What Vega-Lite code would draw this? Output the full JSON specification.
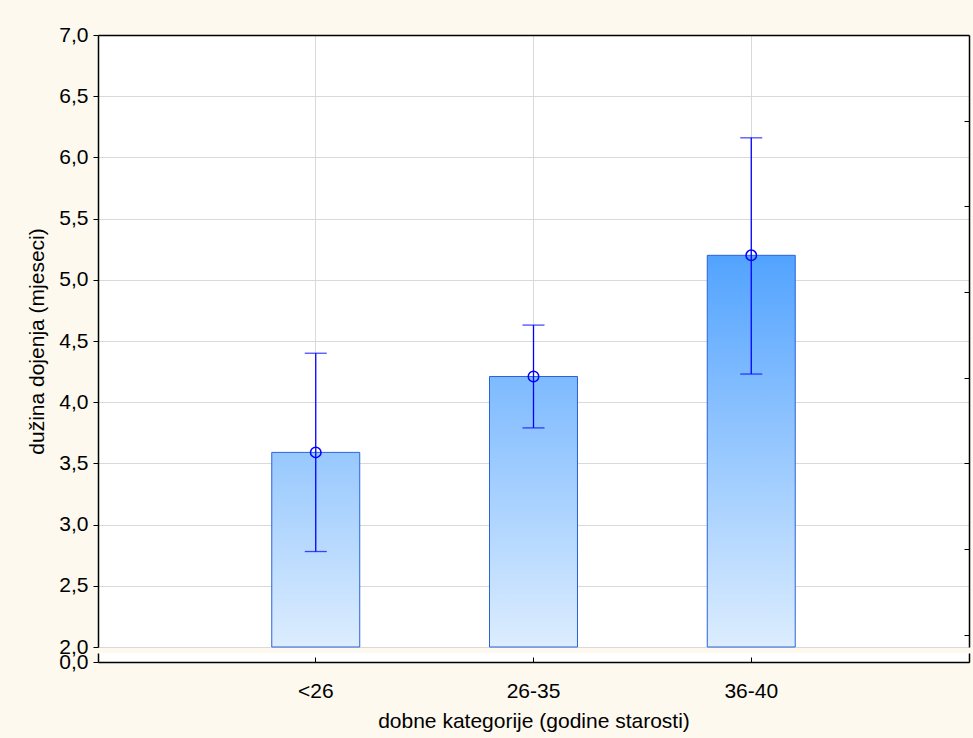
{
  "$schema": "https://vega.github.io/schema/vega-lite/v6.json",
  "background": "#fdf9ef",
  "padding": {"left": 26, "top": 24, "right": 4, "bottom": 8},
  "bounds": "flush",
  "data": {"values": [
    {"age": "<26", "mean": 3.59, "lo": 2.78, "hi": 4.40},
    {"age": "26-35", "mean": 4.21, "lo": 3.79, "hi": 4.63},
    {"age": "36-40", "mean": 5.20, "lo": 4.23, "hi": 6.16}
  ]},
  "spacing": 6,
  "vconcat": [
    {
      "width": 871,
      "height": 612,
      "encoding": {
        "x": {"field": "age", "type": "nominal",
          "scale": {"type": "band", "domain": ["<26", "26-35", "36-40"], "paddingInner": 0.596, "paddingOuter": 0.798},
          "axis": {"orient": "top", "labels": false, "ticks": false, "title": null, "domain": true, "domainColor": "#000", "domainWidth": 1.5, "grid": true, "gridColor": "#d9d9d9"}}
      },
      "layer": [
        {
          "mark": {"type": "bar", "stroke": "#2a62dc", "strokeWidth": 1},
          "encoding": {
            "y": {"field": "mean", "type": "quantitative",
              "scale": {"domain": [2, 7], "zero": false, "nice": false},
              "axis": {"orient": "left", "values": [2, 2.5, 3, 3.5, 4, 4.5, 5, 5.5, 6, 6.5, 7],
                "labelExpr": "replace(format(datum.value, '.1f'), '.', ',')",
                "grid": true, "gridColor": "#d9d9d9", "tickColor": "#000", "tickSize": 5,
                "domainColor": "#000", "domainWidth": 1.5, "labelFontSize": 21, "labelColor": "#000", "labelPadding": 5,
                "title": "dužina dojenja (mjeseci)", "titleFontSize": 21, "titleFontWeight": "normal", "titleColor": "#000", "titlePadding": 11}},
            "y2": {"datum": 2},
            "fill": {
              "condition": [
                {"test": "datum.age === '<26'", "value": {"gradient": "linear", "x1": 0, "y1": 0, "x2": 0, "y2": 1, "stops": [{"offset": 0, "color": "#97c8fe"}, {"offset": 1, "color": "#dcedfe"}]}},
                {"test": "datum.age === '26-35'", "value": {"gradient": "linear", "x1": 0, "y1": 0, "x2": 0, "y2": 1, "stops": [{"offset": 0, "color": "#7dbaff"}, {"offset": 1, "color": "#dcedfe"}]}}
              ],
              "value": {"gradient": "linear", "x1": 0, "y1": 0, "x2": 0, "y2": 1, "stops": [{"offset": 0, "color": "#52a3ff"}, {"offset": 1, "color": "#dcedfe"}]}
            }
          }
        },
        {
          "mark": {"type": "rule", "color": "#0000ff", "strokeWidth": 1.3},
          "encoding": {
            "y": {"field": "lo", "type": "quantitative",
              "scale": {"domain": [2, 7], "zero": false, "nice": false},
              "axis": {"orient": "right", "values": [2.1, 2.8, 3.5, 4.2, 4.9, 5.6, 6.3], "labels": false, "title": null, "grid": false,
                "tickSize": -5, "tickColor": "#000", "domainColor": "#000", "domainWidth": 1.5}},
            "y2": {"field": "hi"}
          }
        },
        {
          "mark": {"type": "tick", "orient": "horizontal", "size": 22, "thickness": 1.3, "color": "#0000ff"},
          "encoding": {
            "y": {"field": "lo", "type": "quantitative", "scale": {"domain": [2, 7], "zero": false, "nice": false}, "axis": null}
          }
        },
        {
          "mark": {"type": "tick", "orient": "horizontal", "size": 22, "thickness": 1.3, "color": "#0000ff"},
          "encoding": {
            "y": {"field": "hi", "type": "quantitative", "scale": {"domain": [2, 7], "zero": false, "nice": false}, "axis": null}
          }
        },
        {
          "mark": {"type": "point", "shape": "circle", "filled": false, "size": 110, "color": "#0000ff", "strokeWidth": 1.5, "opacity": 1},
          "encoding": {
            "y": {"field": "mean", "type": "quantitative", "scale": {"domain": [2, 7], "zero": false, "nice": false}, "axis": null}
          }
        }
      ],
      "resolve": {"axis": {"y": "independent"}}
    },
    {
      "width": 871,
      "height": 9,
      "encoding": {
        "x": {"field": "age", "type": "nominal",
          "scale": {"type": "band", "domain": ["<26", "26-35", "36-40"], "paddingInner": 0.596, "paddingOuter": 0.798},
          "axis": {"orient": "bottom", "labelFontSize": 21, "labelColor": "#000", "tickSize": -5, "tickColor": "#000",
            "domainColor": "#000", "domainWidth": 1.5, "labelPadding": 23, "labelAngle": 0,
            "title": "dobne kategorije (godine starosti)", "titleFontSize": 21, "titleFontWeight": "normal", "titleColor": "#000", "titlePadding": 9,
            "grid": false}}
      },
      "layer": [
        {
          "mark": {"type": "point", "opacity": 0},
          "encoding": {
            "y": {"datum": 0, "type": "quantitative", "scale": {"domain": [0, 1], "nice": false},
              "axis": {"orient": "left", "values": [0], "labelExpr": "'0,0'", "tickSize": 5, "tickColor": "#000", "labelFontSize": 21, "labelColor": "#000", "labelPadding": 5,
                "title": null, "grid": false, "domainColor": "#000", "domainWidth": 1.5}}
          }
        },
        {
          "mark": {"type": "point", "opacity": 0},
          "encoding": {
            "y": {"datum": 0, "type": "quantitative", "scale": {"domain": [0, 1], "nice": false},
              "axis": {"orient": "right", "values": [0], "labels": false, "tickSize": -5, "tickColor": "#000", "title": null, "grid": false, "domainColor": "#000", "domainWidth": 1.5}}
          }
        }
      ],
      "resolve": {"axis": {"y": "independent"}}
    }
  ],
  "config": {
    "font": "Liberation Sans",
    "view": {"stroke": null, "fill": "white"},
    "axis": {"labelFont": "Liberation Sans", "titleFont": "Liberation Sans"}
  }
}
